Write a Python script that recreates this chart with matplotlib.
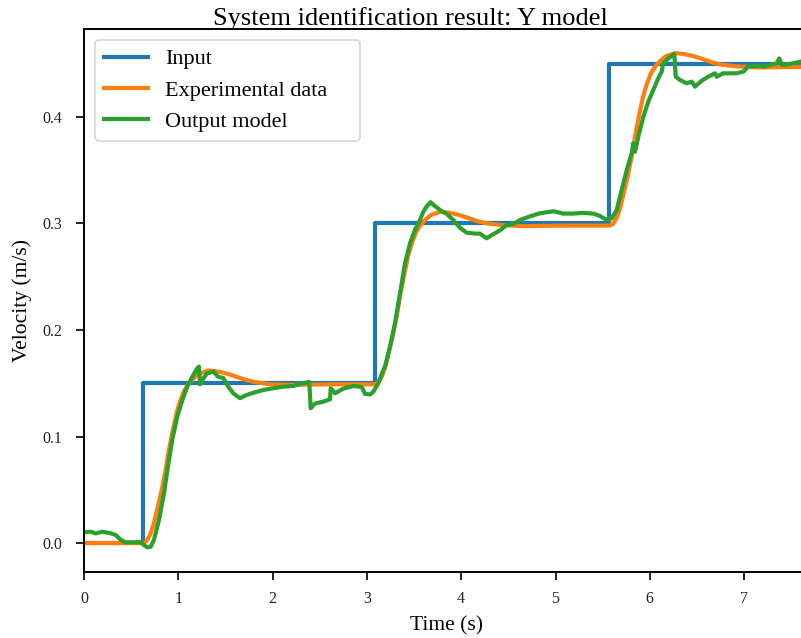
import matplotlib
matplotlib.use("Agg")
import matplotlib.pyplot as plt

# ---------------- data ----------------
input_t = [0.0, 0.625, 3.085, 5.565, 7.7]
input_v = [0.0, 0.15, 0.30, 0.45, 0.45]

exp_t = [0.0, 0.62, 0.66, 0.70, 0.74, 0.78, 0.82, 0.86, 0.90, 0.94, 0.98, 1.02, 1.06, 1.10,
         1.16, 1.22, 1.32, 1.42, 1.52, 1.62, 1.72, 1.82, 1.97, 2.20, 2.60, 3.08,
         3.12, 3.16, 3.20, 3.24, 3.28, 3.32, 3.36, 3.40, 3.44, 3.48, 3.52, 3.56,
         3.62, 3.68, 3.78, 3.88, 3.98, 4.08, 4.18, 4.28, 4.43, 4.66, 5.06, 5.57,
         5.61, 5.65, 5.69, 5.73, 5.77, 5.81, 5.85, 5.89, 5.93, 5.97, 6.01, 6.05,
         6.11, 6.17, 6.27, 6.37, 6.47, 6.57, 6.67, 6.77, 6.92, 7.15, 7.55, 7.7]
exp_v = [0.0, 0.0, 0.0015, 0.0075, 0.018, 0.033, 0.048, 0.066, 0.087, 0.105, 0.1215, 0.1335, 0.1425, 0.1485,
         0.1545, 0.159, 0.162, 0.161, 0.159, 0.156, 0.153, 0.151, 0.149, 0.1485, 0.149, 0.149,
         0.1505, 0.1565, 0.167, 0.182, 0.197, 0.215, 0.236, 0.254, 0.2705, 0.2825, 0.2915, 0.2975,
         0.3035, 0.308, 0.311, 0.310, 0.308, 0.305, 0.302, 0.300, 0.2985, 0.2975, 0.298, 0.298,
         0.2995, 0.3055, 0.316, 0.331, 0.346, 0.364, 0.385, 0.403, 0.4195, 0.4315, 0.4405, 0.4465,
         0.4525, 0.457, 0.460, 0.459, 0.457, 0.454, 0.451, 0.449, 0.4475, 0.4465, 0.447, 0.447]

model_t = [0.000, 0.071, 0.124, 0.191, 0.283, 0.336, 0.389, 0.442, 0.530, 0.601, 0.636, 0.671,
           0.707, 0.742, 0.795, 0.848, 0.901, 0.936, 0.989, 1.042, 1.095, 1.148, 1.201, 1.220,
           1.230, 1.254, 1.301, 1.371, 1.424, 1.477, 1.530, 1.583, 1.654, 1.725, 1.795, 1.901,
           2.007, 2.113, 2.219, 2.326, 2.389, 2.404, 2.450, 2.538, 2.609, 2.616, 2.662, 2.750,
           2.856, 2.945, 2.980, 3.033, 3.068, 3.121, 3.174, 3.192, 3.245, 3.298, 3.351, 3.404,
           3.457, 3.510, 3.563, 3.598, 3.634, 3.674, 3.712, 3.775, 3.846, 3.916, 3.987, 4.058,
           4.146, 4.199, 4.270, 4.340, 4.411, 4.482, 4.553, 4.624, 4.730, 4.836, 4.977, 5.083,
           5.189, 5.295, 5.401, 5.472, 5.543, 5.596, 5.649, 5.702, 5.755, 5.808, 5.825, 5.843,
           5.878, 5.931, 5.984, 6.037, 6.090, 6.126, 6.143, 6.196, 6.260, 6.275, 6.320, 6.391,
           6.444, 6.479, 6.550, 6.620, 6.691, 6.709, 6.779, 6.921, 6.992, 7.044, 7.134, 7.204,
           7.275, 7.346, 7.373, 7.399, 7.487, 7.604, 7.7]
model_v = [0.0100, 0.0106, 0.0090, 0.0106, 0.0092, 0.0075, 0.0030, 0.0007, 0.0007, 0.0010, -0.0020, -0.0040,
           -0.0035, 0.0030, 0.0216, 0.0467, 0.0780, 0.0970, 0.1186, 0.1340, 0.1468, 0.1560, 0.1640, 0.1656,
           0.1490, 0.1530, 0.1590, 0.1610, 0.1560, 0.1550, 0.1468, 0.1406, 0.1360, 0.1390, 0.1410, 0.1437,
           0.1453, 0.1468, 0.1475, 0.1500, 0.1512, 0.1265, 0.1310, 0.1327, 0.1350, 0.1453, 0.1406, 0.1450,
           0.1474, 0.1465, 0.1400, 0.1395, 0.1420, 0.1500, 0.1624, 0.1656, 0.1843, 0.2063, 0.2345, 0.2626,
           0.2814, 0.2940, 0.3033, 0.3110, 0.3160, 0.3200, 0.3170, 0.3127, 0.3090, 0.3033, 0.2960, 0.2914,
           0.2905, 0.2905, 0.2861, 0.2900, 0.2935, 0.2986, 0.2995, 0.3033, 0.3067, 0.3096, 0.3115, 0.3093,
           0.3093, 0.3100, 0.3093, 0.3070, 0.3033, 0.3050, 0.3127, 0.3315, 0.3500, 0.3660, 0.3753, 0.3674,
           0.3815, 0.4000, 0.4144, 0.4254, 0.4363, 0.4426, 0.4504, 0.4550, 0.4590, 0.4378, 0.4347, 0.4316,
           0.4332, 0.4285, 0.4340, 0.4378, 0.4410, 0.4378, 0.4410, 0.4410, 0.4426, 0.4473, 0.4479, 0.4473,
           0.4488, 0.4504, 0.4550, 0.4488, 0.4498, 0.4520, 0.4525]

x_ticks = [0, 1, 2, 3, 4, 5, 6, 7]
y_ticks = [0.0, 0.1, 0.2, 0.3, 0.4]

# ---------------- style ----------------
plt.rcParams['font.family'] = ['Liberation Serif', 'DejaVu Serif']
plt.rcParams['mathtext.fontset'] = 'stix'

W, H = 801, 638
fig = plt.figure(figsize=(W / 100, H / 100), dpi=100)
left, right, bottom, top = 84, 808, 572, 29
ax = fig.add_axes([left / W, 1 - bottom / H, (right - left) / W, (bottom - top) / H])

lw = 3.0
ax.step(input_t, input_v, where='post', color='#1f77b4', lw=lw, label='Input')
ax.plot(exp_t, exp_v, color='#ff7f0e', lw=lw, label='Experimental data')
ax.plot(model_t, model_v, color='#2ca02c', lw=lw, label='Output model')

ax.set_xlim(0, (right - left) / 94.3)
ax.set_ylim(-0.0272, 0.4826)
ax.set_xticks(x_ticks)
ax.set_xticklabels([str(v) for v in x_ticks])
ax.set_yticks(y_ticks)
ax.set_yticklabels([f"{v:.1f}" for v in y_ticks])

for s in ['left', 'bottom', 'top']:
    ax.spines[s].set_linewidth(1.4)
ax.spines['right'].set_visible(False)
ax.tick_params(axis='both', direction='out', length=6, width=1.4, labelsize=11.5, colors='#222222')
ax.tick_params(axis='x', pad=8)
ax.tick_params(axis='y', pad=10)

ax.set_xlabel('Time (s)', fontsize=15.5, labelpad=6)
ax.set_ylabel('Velocity (m/s)', fontsize=15.5, labelpad=7)
fig.text(0.512, 1 - 25 / H, 'System identification result: Y model', fontsize=19,
         ha='center', va='baseline')

# legend box spans roughly px 95..360 horizontally, top at px 40
x0 = (95 - left) / (right - left)
x1 = (360 - left) / (right - left)
y1 = (bottom - 40) / (bottom - top)
leg = ax.legend(loc='upper left', fontsize=16, frameon=True, fancybox=True,
                bbox_to_anchor=(x0, y1, x1 - x0, 0.0), mode='expand', borderaxespad=0.0,
                handlelength=2.0, handletextpad=0.75, labelspacing=0.48, borderpad=0.4)
leg.get_frame().set_edgecolor('#cccccc')
leg.get_frame().set_linewidth(1.2)

fig.savefig('out.png', dpi=100)
